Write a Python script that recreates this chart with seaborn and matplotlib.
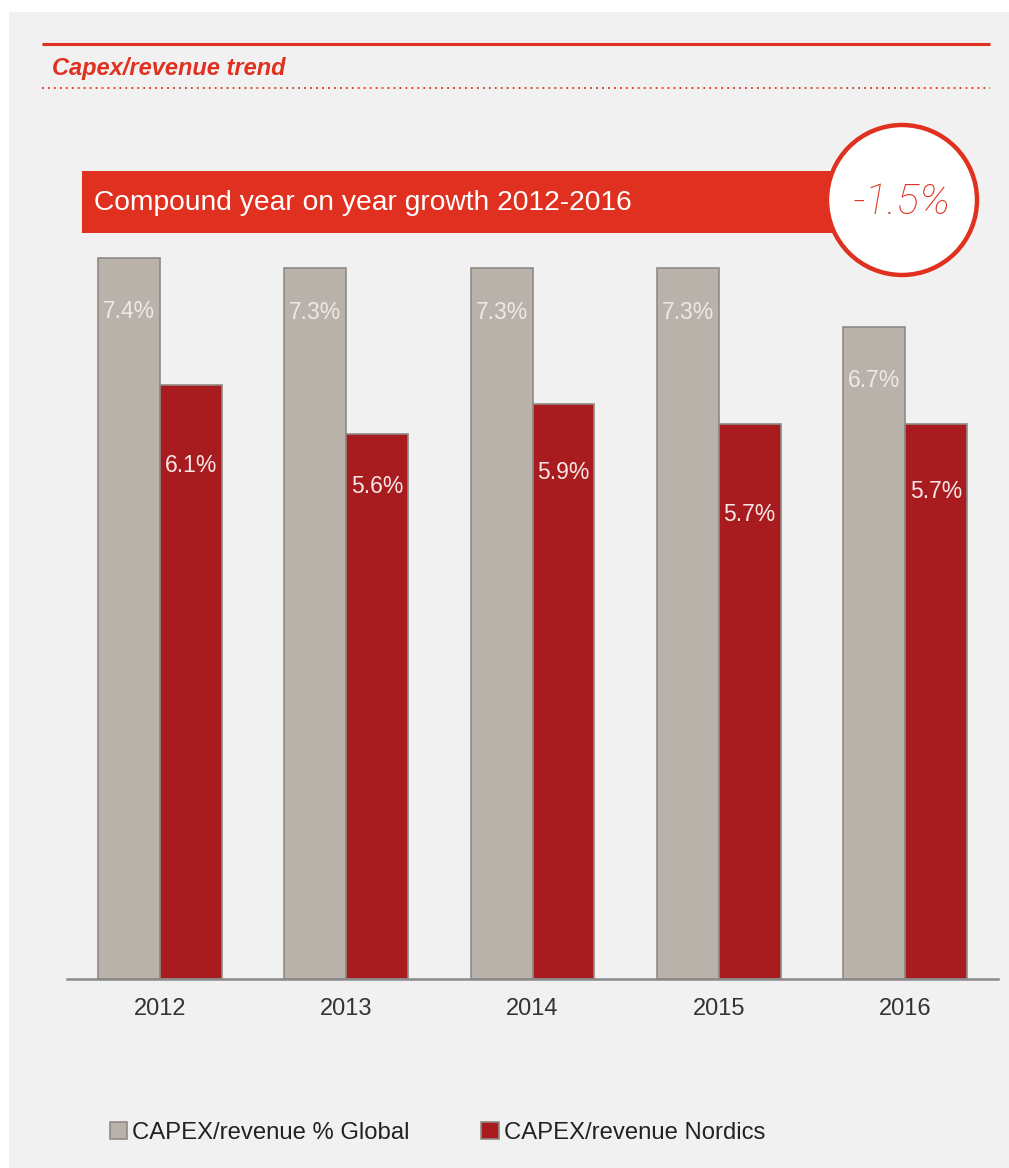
import matplotlib
matplotlib.use("Agg")
import matplotlib.pyplot as plt
import matplotlib.patches as mpatches
import seaborn as sns
import pandas as pd

# ---- data ----
years = ["2012", "2013", "2014", "2015", "2016"]
global_vals = [7.4, 7.3, 7.3, 7.3, 6.7]
nordic_vals = [6.1, 5.6, 5.9, 5.7, 5.7]
series_names = ["CAPEX/revenue % Global", "CAPEX/revenue Nordics"]
global_labels = ["7.4%", "7.3%", "7.3%", "7.3%", "6.7%"]
nordic_labels = ["6.1%", "5.6%", "5.9%", "5.7%", "5.7%"]
# label drop below bar top (in value units)
global_label_drop = [0.55, 0.46, 0.46, 0.46, 0.55]
nordic_label_drop = [0.83, 0.54, 0.70, 0.93, 0.69]
title = "Capex/revenue trend"
banner_text = "Compound year on year growth 2012-2016"
cagr_text = "-1.5%"

BG = "#f1f1f1"
RED = "#e03120"
GRAY_BAR = "#b9b2ab"
RED_BAR = "#a81c20"

sns.set_theme(style="white")
plt.rcParams["font.family"] = ["Liberation Sans", "DejaVu Sans"]

W, H = 1009, 1168
fig = plt.figure(figsize=(W / 100, H / 100), dpi=100, facecolor="white")

df = pd.DataFrame({
    "year": years * 2,
    "value": global_vals + nordic_vals,
    "series": [series_names[0]] * len(years) + [series_names[1]] * len(years),
})

# background overlay (drawn behind main axes)
bg = fig.add_axes([0, 0, 1, 1], zorder=0)
bg.set_xlim(0, W)
bg.set_ylim(H, 0)
bg.axis("off")
bg.add_patch(mpatches.Rectangle((9, 12), W - 9, H - 12, facecolor=BG, edgecolor="none"))

ax_l, ax_r, ax_b, ax_t = 67, 998, 979, 200
ax = fig.add_axes([ax_l / W, (H - ax_b) / H, (ax_r - ax_l) / W, (ax_b - ax_t) / H], zorder=1)
ax.set_facecolor("none")

sns.barplot(data=df, x="year", y="value", hue="series",
            palette=[GRAY_BAR, RED_BAR], saturation=1, width=0.665, gap=0,
            edgecolor="#8f8a86", linewidth=1.2, ax=ax, legend=True)

ax.set_xlim(-0.5, 4.5)
ax.set_ylim(0, 8.0)
ax.set_xlabel("")
ax.set_ylabel("")
ax.set_yticks([])
for s in ["top", "right", "left"]:
    ax.spines[s].set_visible(False)
ax.spines["bottom"].set_color("#8a8a8a")
ax.spines["bottom"].set_linewidth(1.8)
ax.tick_params(axis="x", length=0, pad=14, labelsize=17, labelcolor="#333333")

# value labels
off = 0.665 / 4
for i in range(len(years)):
    ax.text(i - off, global_vals[i] - global_label_drop[i], global_labels[i],
            ha="center", va="center", fontsize=16.5, color="#ece9e6")
    ax.text(i + off, nordic_vals[i] - nordic_label_drop[i], nordic_labels[i],
            ha="center", va="center", fontsize=16.5, color="#f7e6e6")

# legend
leg = ax.legend(loc="center left", bbox_to_anchor=(88 / W, (H - 1133) / H),
                bbox_transform=fig.transFigure, ncol=2, frameon=False,
                fontsize=17.2, handlelength=0.75, handleheight=0.75,
                handletextpad=0.2, columnspacing=3.0, labelcolor="#222222")

# overlay for header and banner
ov = fig.add_axes([0, 0, 1, 1], zorder=5)
ov.set_xlim(0, W)
ov.set_ylim(H, 0)
ov.axis("off")
ov.patch.set_alpha(0)

ov.plot([42, 990], [44, 44], color=RED, lw=2.2, solid_capstyle="butt")
ov.plot([42, 990], [88, 88], color=RED, lw=1.3, linestyle=(0, (1, 2.3)))
ov.text(52, 68, title, color=RED, fontsize=17, fontweight="bold",
        fontstyle="italic", ha="left", va="center")

ov.add_patch(mpatches.Rectangle((82, 171), 780, 62, facecolor=RED, edgecolor="none"))
ov.text(94, 203, banner_text, color="white", fontsize=20.3, ha="left", va="center")
ov.add_patch(mpatches.Circle((902, 200), 75, facecolor="white", edgecolor=RED, lw=3.2))
ov.text(902, 203, cagr_text, color=RED, fontsize=31, fontstyle="italic",
        fontweight="light", family=["Roboto", "DejaVu Sans"], ha="center", va="center")

fig.savefig("out.png", dpi=100, facecolor=fig.get_facecolor())
